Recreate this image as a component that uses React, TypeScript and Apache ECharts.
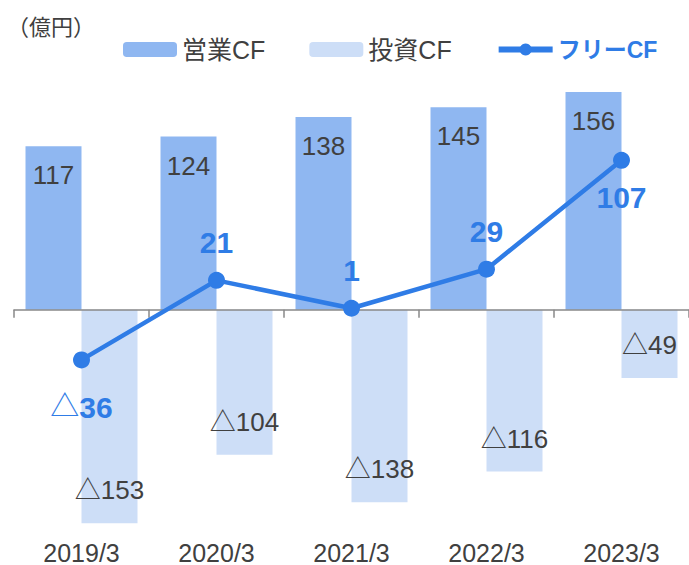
import React, { useEffect, useRef } from "react";
import * as echarts from "echarts";

const categories = ["2019/3", "2020/3", "2021/3", "2022/3", "2023/3"];
const operatingCF = [117, 124, 138, 145, 156];
const investingCF = [-153, -104, -138, -116, -49];
const freeCF = [-36, 21, 1, 29, 107];
const seriesNames = ["営業CF", "投資CF", "フリーCF"];
const unitLabel = "（億円）";

const C_OP = "#8FB7F1";
const C_INV = "#CDDEF7";
const C_FREE = "#2F7CE6";
const C_TEXT = "#404040";
const FONT = "'Liberation Sans', Arial, 'Noto Sans CJK JP', sans-serif";

export default function App() {
  const ref = useRef<HTMLDivElement>(null);
  useEffect(() => {
    if (!ref.current) return;
    const chart = echarts.init(ref.current, null, { renderer: "svg" });
    const last = freeCF.length - 1;
    const option = {
      animation: false,
      backgroundColor: "#ffffff",
      textStyle: { fontFamily: FONT },
      graphic: [
        {
          type: "text",
          left: 7,
          top: 16,
          style: { text: unitLabel, fontSize: 22, fill: C_TEXT, fontFamily: FONT },
        },
      ],
      legend: {
        left: 123,
        top: 37,
        padding: 0,
        itemWidth: 54,
        itemHeight: 15,
        itemGap: 44,
        textStyle: { fontSize: 25, color: C_TEXT, fontFamily: FONT },
        data: [
          { name: seriesNames[0] },
          { name: seriesNames[1] },
          {
            name: seriesNames[2],
            textStyle: { color: C_FREE, fontWeight: "bold", fontSize: 23 },
            lineStyle: { width: 6 },
          },
        ],
      },
      grid: { left: 14, top: 86.3, width: 677.5, height: 447.4, containLabel: false },
      xAxis: [
        {
          type: "category",
          data: categories,
          position: "bottom",
          axisLine: { onZero: true, lineStyle: { color: "#898989", width: 1.5 } },
          axisTick: { show: true, length: 8, lineStyle: { color: "#898989", width: 1.5 } },
          axisLabel: { show: false },
          z: 3,
        },
        {
          type: "category",
          data: categories,
          position: "bottom",
          axisLine: { show: false, onZero: false },
          axisTick: { show: false },
          axisLabel: { show: true, margin: 7, fontSize: 25, color: C_TEXT, fontFamily: FONT },
        },
      ],
      yAxis: {
        type: "value",
        min: -160,
        max: 160,
        show: false,
        splitLine: { show: false },
      },
      series: [
        {
          name: seriesNames[0],
          type: "bar",
          data: operatingCF,
          barWidth: 56,
          barGap: "0%",
          itemStyle: { color: C_OP },
          label: {
            show: true,
            position: "insideTop",
            distance: 16,
            fontSize: 26,
            color: C_TEXT,
            fontFamily: FONT,
          },
        },
        {
          name: seriesNames[1],
          type: "bar",
          data: investingCF,
          barWidth: 56,
          barGap: "0%",
          itemStyle: { color: C_INV },
          label: {
            show: true,
            position: "insideBottom",
            distance: 20,
            fontSize: 26,
            color: C_TEXT,
            fontFamily: FONT,
            formatter: (p: any) => (p.value < 0 ? "△" + Math.abs(p.value) : String(p.value)),
          },
        },
        {
          name: seriesNames[2],
          type: "line",
          z: 5,
          symbol: "circle",
          symbolSize: 17,
          color: C_FREE,
          itemStyle: { color: C_FREE },
          lineStyle: { color: C_FREE, width: 4.5 },
          data: freeCF.map((v, i) => ({
            value: v,
            label: {
              position: v < 0 || i === last ? "bottom" : "top",
              distance: v < 0 ? 24 : 14,
            },
          })),
          label: {
            show: true,
            formatter: (p: any) =>
              p.value < 0 ? "{a|△}{b|" + Math.abs(p.value) + "}" : "{b|" + p.value + "}",
            rich: {
              a: { fontSize: 29, color: C_FREE, fontWeight: "normal", fontFamily: FONT },
              b: { fontSize: 30, color: C_FREE, fontWeight: "bold", fontFamily: FONT },
            },
          },
        },
      ],
    };
    chart.setOption(option as any);
    return () => chart.dispose();
  }, []);
  return (
    <div
      ref={ref}
      style={{ position: "fixed", left: 0, top: 0, width: 689, height: 565, background: "#fff" }}
    />
  );
}
